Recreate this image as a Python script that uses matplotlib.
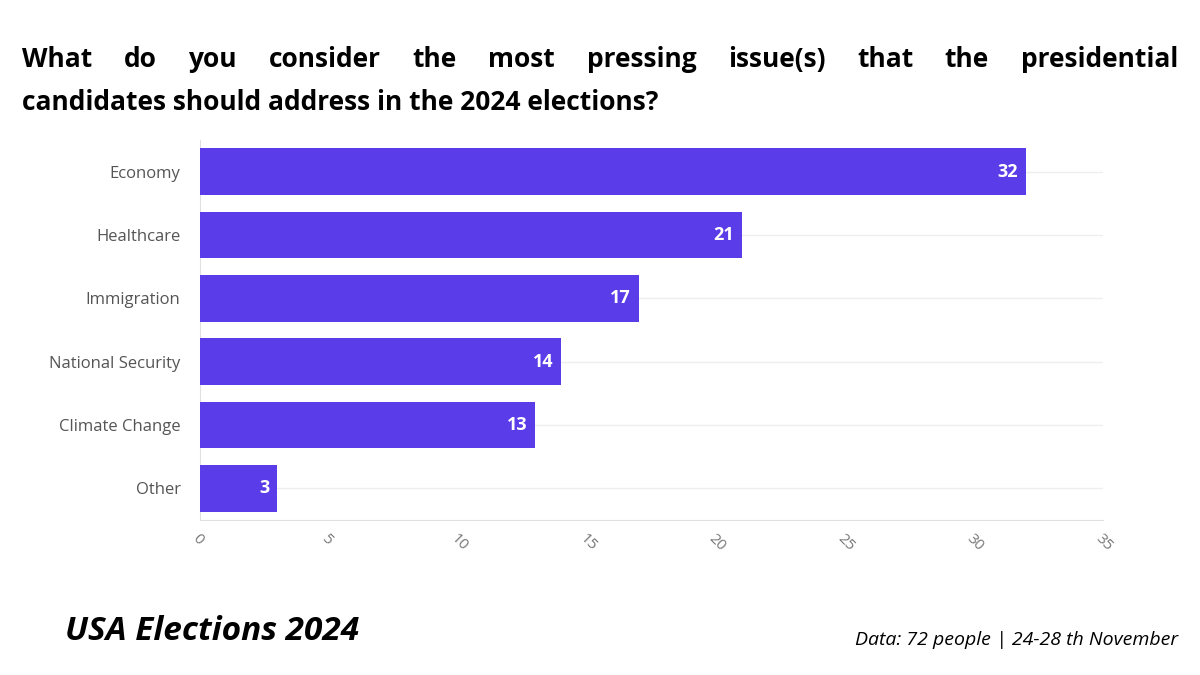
import matplotlib
matplotlib.use("Agg")
import matplotlib.pyplot as plt

categories = ["Economy", "Healthcare", "Immigration", "National Security", "Climate Change", "Other"]
values = [32, 21, 17, 14, 13, 3]
x_ticks = [0, 5, 10, 15, 20, 25, 30, 35]

bar_color = "#5a3de8"
plt.rcParams['font.family'] = ['Open Sans', 'DejaVu Sans']

fig = plt.figure(figsize=(12, 6.75), dpi=100)
ax = fig.add_axes([200/1200, 1-520/675, 903/1200, 380/675])

y = list(range(len(categories)))
ax.barh(y, values, height=0.74, color=bar_color, zorder=3)
for yi, v in zip(y, values):
    ax.text(v - 0.3, yi, str(v), ha="right", va="center", color="white",
            fontsize=13, fontweight="bold", zorder=4)
    ax.axhline(yi, color="#eeeeee", lw=1, zorder=1)

ax.set_ylim(len(categories) - 0.5, -0.5)
ax.set_xlim(0, 35)
ax.set_yticks(y)
ax.set_yticklabels(categories, fontsize=12, color="#555555")
ax.set_xticks(x_ticks)
ax.set_xticklabels([str(t) for t in x_ticks], rotation=-45, ha="left", va="top",
                   fontsize=11, color="#777777", rotation_mode="anchor")
ax.tick_params(axis="y", length=0, pad=14)
ax.tick_params(axis="x", length=0, pad=8)
for s in ["top", "right"]:
    ax.spines[s].set_visible(False)
ax.spines["left"].set_color("#e0e0e0")
ax.spines["bottom"].set_color("#e0e0e0")

# justified title, first line
line1 = "What do you consider the most pressing issue(s) that the presidential".split()
fig.canvas.draw()
r = fig.canvas.get_renderer()
texts = [fig.text(0, 0, w, fontsize=19, fontweight="bold") for w in line1]
widths = [t.get_window_extent(r).width for t in texts]
left, right = 22, 1178
gap = (right - left - sum(widths)) / (len(line1) - 1)
xpos = left
for t, w in zip(texts, widths):
    t.set_position((xpos / 1200, 1 - 67/675))
    xpos += w + gap
fig.text(22/1200, 1 - 110/675, "candidates should address in the 2024 elections?",
         fontsize=19, fontweight="bold")

fig.text(65/1200, 1 - 640/675, "USA Elections 2024", fontsize=24,
         fontweight="bold", style="italic")
fig.text(1178/1200, 1 - 645/675, "Data: 72 people | 24-28 th November",
         fontsize=14, style="italic", ha="right")

fig.savefig("out.png", dpi=100)
